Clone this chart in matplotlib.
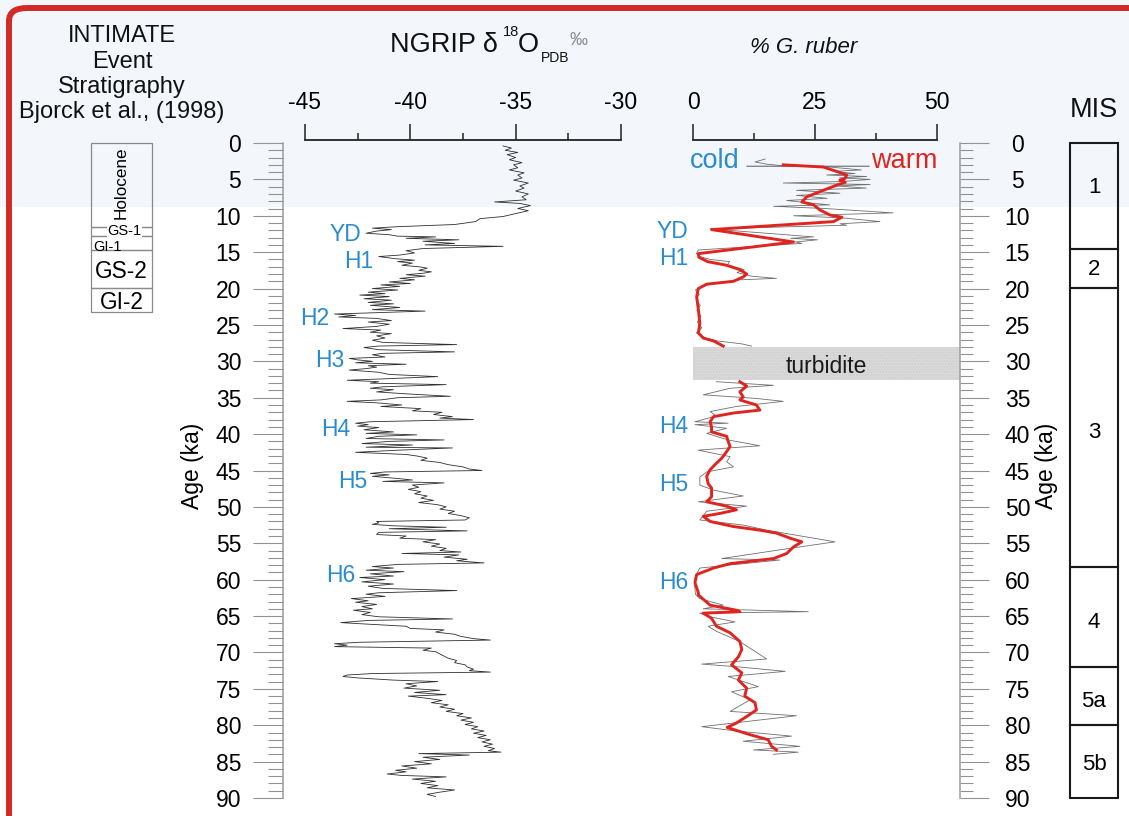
import numpy as np
import matplotlib
matplotlib.use("Agg")
import matplotlib.pyplot as plt
import matplotlib.transforms as mtransforms
from matplotlib.patches import Rectangle, FancyBboxPatch
from matplotlib.ticker import MultipleLocator

plt.rcParams['font.family'] = ['Liberation Sans', 'DejaVu Sans']
plt.rcParams['axes.unicode_minus'] = False

# ---------------- data ----------------
# NGRIP oxygen isotope record (age ka, d18O permil)
ngrip_age = [0.4, 0.7, 1.0, 1.3, 1.6, 2.0, 2.3, 2.7, 3.0, 3.4, 3.7, 4.1, 4.4, 4.8, 5.1, 5.5, 5.9, 6.2, 6.6, 7.0,
             7.4, 7.8, 8.1, 8.3, 8.6, 9.0, 9.3, 9.7, 10.1, 10.4, 10.8, 11.2, 11.5, 11.7, 11.9, 12.1, 12.4, 12.6, 12.8, 12.9,
             13.1, 13.3, 13.5, 13.8, 14.0, 14.2, 14.5, 14.8, 15.1, 15.4, 15.6, 15.9, 16.1, 16.3, 16.5, 16.8, 17.0, 17.2, 17.5, 17.7,
             17.9, 18.1, 18.3, 18.6, 18.8, 19.1, 19.3, 19.5, 19.7, 20.0, 20.2, 20.5, 20.7, 20.9, 21.1, 21.4, 21.6, 21.9, 22.1, 22.3,
             22.6, 22.9, 23.1, 23.3, 23.5, 23.7, 23.9, 24.1, 24.4, 24.6, 24.9, 25.2, 25.5, 25.7, 26.0, 26.2, 26.5, 26.8, 27.1, 27.4,
             27.7, 27.9, 28.1, 28.4, 28.7, 28.9, 29.1, 29.4, 29.6, 29.8, 30.0, 30.2, 30.4, 30.6, 30.8, 31.0, 31.2, 31.5, 31.8, 32.1,
             32.4, 32.6, 32.8, 33.0, 33.2, 33.5, 33.7, 33.9, 34.2, 34.5, 34.8, 35.0, 35.3, 35.5, 35.7, 36.0, 36.2, 36.5, 36.8, 37.0,
             37.3, 37.6, 37.8, 38.0, 38.3, 38.5, 38.7, 38.9, 39.1, 39.4, 39.7, 39.9, 40.1, 40.3, 40.6, 40.8, 41.0, 41.3, 41.5, 41.8,
             41.9, 42.2, 42.5, 42.8, 43.0, 43.3, 43.6, 43.9, 44.2, 44.5, 44.8, 45.0, 45.2, 45.4, 45.6, 45.8, 46.1, 46.3, 46.5, 46.7,
             47.0, 47.3, 47.6, 47.9, 48.2, 48.5, 48.8, 49.1, 49.4, 49.7, 50.0, 50.3, 50.6, 50.9, 51.2, 51.5, 51.8, 52.0, 52.2, 52.4,
             52.6, 52.8, 53.0, 53.3, 53.5, 53.8, 54.0, 54.3, 54.5, 54.8, 55.1, 55.4, 55.7, 56.0, 56.2, 56.4, 56.6, 56.9, 57.2, 57.4,
             57.7, 57.9, 58.2, 58.4, 58.7, 58.9, 59.2, 59.5, 59.7, 60.0, 60.3, 60.6, 60.9, 61.2, 61.5, 61.8, 62.0, 62.3, 62.6, 62.9,
             63.1, 63.4, 63.7, 64.0, 64.2, 64.5, 64.8, 65.1, 65.4, 65.6, 65.9, 66.1, 66.4, 66.7, 66.9, 67.2, 67.5, 67.8, 68.1, 68.3,
             68.6, 68.8, 69.0, 69.2, 69.4, 69.7, 69.9, 70.2, 70.5, 70.8, 71.1, 71.4, 71.7, 72.0, 72.3, 72.5, 72.7, 72.9, 73.1, 73.3,
             73.5, 73.8, 74.0, 74.3, 74.6, 74.9, 75.2, 75.5, 75.8, 76.0, 76.3, 76.6, 76.9, 77.2, 77.5, 77.8, 78.1, 78.4, 78.7, 79.0,
             79.3, 79.6, 79.9, 80.2, 80.5, 80.8, 81.1, 81.4, 81.7, 82.0, 82.3, 82.6, 82.9, 83.2, 83.5, 83.7, 83.9, 84.1, 84.4, 84.7,
             85.0, 85.3, 85.6, 85.9, 86.2, 86.4, 86.7, 86.9, 87.1, 87.4, 87.7, 88.0, 88.3, 88.6, 88.9, 89.2, 89.5, 89.8]
ngrip_d18o = [-35.6, -35.2, -35.5, -34.9, -35.4, -35.0, -35.3, -34.7, -35.1, -34.9, -35.3, -34.6, -34.9, -34.7, -35.1, -34.4, -34.8, -34.6, -35.0, -34.4,
              -34.7, -34.5, -36.0, -34.8, -34.3, -34.9, -34.4, -35.0, -35.6, -36.7, -36.9, -37.9, -40.6, -41.8, -40.9, -41.6, -42.1, -41.0, -40.6, -38.8,
              -40.2, -37.7, -39.4, -37.9, -39.3, -35.6, -39.4, -40.2, -39.8, -40.5, -41.5, -40.7, -39.8, -40.6, -39.9, -40.4, -39.6, -39.2, -39.6, -39.0,
              -39.4, -40.2, -39.3, -40.5, -39.8, -41.0, -40.0, -41.4, -40.5, -41.8, -40.6, -42.0, -41.2, -42.4, -41.0, -42.2, -40.9, -42.0, -40.8, -41.9,
              -40.5, -41.8, -39.3, -41.5, -43.6, -42.6, -43.4, -41.6, -40.9, -42.0, -41.0, -41.6, -43.2, -41.4, -41.9, -40.9, -41.6, -41.2, -41.8, -41.3,
              -37.8, -41.5, -42.2, -41.5, -37.9, -41.3, -41.8, -41.2, -42.9, -42.5, -41.8, -42.6, -40.2, -42.0, -41.6, -42.1, -42.9, -41.5, -41.0, -38.7,
              -41.2, -43.0, -41.5, -41.9, -38.3, -41.3, -41.9, -40.8, -41.6, -40.0, -38.1, -40.6, -41.4, -43.0, -41.6, -40.4, -41.4, -39.5, -39.9, -38.5,
              -38.9, -38.0, -38.6, -37.0, -41.9, -42.6, -42.0, -42.5, -41.5, -42.2, -40.8, -42.1, -39.7, -41.5, -42.1, -38.4, -41.0, -42.3, -39.9, -42.1,
              -38.0, -40.5, -42.6, -40.2, -39.7, -39.2, -39.5, -38.6, -38.2, -37.5, -37.2, -36.6, -41.2, -41.9, -41.0, -41.8, -40.6, -39.9, -41.3, -38.4,
              -39.9, -39.6, -40.1, -39.5, -39.8, -39.2, -39.5, -38.9, -39.6, -38.7, -38.3, -38.6, -37.9, -38.2, -37.6, -37.2, -37.4, -41.6, -41.5, -41.8,
              -40.8, -38.3, -41.0, -37.3, -41.5, -41.6, -40.2, -40.5, -38.8, -39.4, -38.6, -39.0, -38.3, -38.6, -37.6, -40.4, -37.7, -38.4, -37.3, -37.8,
              -36.5, -40.6, -41.8, -40.8, -42.1, -40.3, -41.9, -40.8, -42.4, -41.2, -42.3, -40.8, -42.0, -41.3, -37.8, -41.5, -42.1, -41.2, -42.8, -42.0,
              -42.6, -41.6, -42.3, -41.8, -42.7, -41.9, -42.3, -41.5, -38.0, -42.0, -43.3, -42.1, -40.2, -40.0, -38.4, -38.8, -37.9, -37.6, -37.0, -36.2,
              -42.4, -43.6, -43.0, -43.6, -39.0, -39.4, -38.8, -38.6, -38.4, -38.2, -37.8, -37.9, -37.4, -37.3, -37.0, -37.2, -36.2, -41.8, -43.0, -43.2,
              -42.5, -40.8, -38.7, -40.2, -39.7, -40.3, -38.6, -39.8, -38.3, -40.1, -39.2, -38.5, -39.0, -38.2, -38.6, -37.9, -38.3, -37.5, -37.8, -37.1,
              -37.6, -37.0, -37.4, -36.8, -37.1, -36.5, -37.0, -36.4, -36.8, -36.2, -36.6, -36.1, -36.5, -36.0, -36.3, -35.7, -39.6, -37.2, -39.4, -38.6,
              -39.8, -39.0, -40.4, -39.7, -40.7, -40.2, -41.1, -40.4, -38.3, -39.9, -38.8, -39.5, -38.7, -39.2, -37.9, -38.6, -39.2, -38.8]

# G. ruber abundance, raw counts (age ka, %)
ruber_raw_age = [2.2, 2.6, 2.9, 3.1, 3.3, 3.7, 3.9, 4.2, 4.4, 4.6, 4.8, 5.0, 5.3, 5.5, 5.7, 5.9, 6.2, 6.5, 6.9, 7.2,
                 7.6, 7.9, 8.2, 8.5, 8.7, 9.0, 9.6, 10.0, 10.3, 10.8, 11.1, 11.3, 11.8, 12.9, 13.1, 13.3, 13.6, 13.8, 14.7, 15.2,
                 15.6, 16.0, 16.3, 16.8, 17.0, 17.4, 17.8, 18.3, 18.6, 18.8, 19.0, 19.3, 19.6, 20.2, 20.8, 21.5, 22.3, 23.0, 23.8, 24.6,
                 25.4, 26.1, 26.8, 27.2, 27.6, 27.9,
                 32.8, 33.3, 33.7, 34.6, 35.1, 35.5, 36.2, 36.9, 37.5, 38.3, 38.5, 38.7, 39.2, 39.9, 40.8, 41.6, 42.2, 43.1, 43.8, 44.5,
                 45.2, 45.9, 47.0, 47.7, 48.5, 49.3, 49.9, 50.6, 51.8, 52.5, 53.2, 54.8, 55.9, 57.1, 57.3, 58.4, 59.5, 60.5, 62.0, 62.6,
                 63.5, 64.0, 64.4, 64.6, 65.1, 65.8, 66.4, 67.1, 68.5, 70.9, 71.6, 72.0, 72.6, 73.3, 74.7, 75.4, 76.5, 78.1, 78.7, 80.2,
                 80.8, 81.5, 82.2, 82.9, 83.4, 83.7, 84.0]
ruber_raw_pct = [14.8, 12.7, 15.0, 18.0, 28.0, 34.5, 28.8, 33.2, 27.4, 35.6, 30.0, 36.3, 30.5, 18.5, 36.3, 29.4, 35.5, 21.2, 30.1, 21.2,
                 27.5, 19.2, 23.3, 28.0, 16.5, 27.0, 41.0, 20.6, 30.8, 38.3, 30.1, 31.5, 3.5, 24.7, 20.0, 25.5, 21.0, 22.3, 1.1, 0.7,
                 1.4, 3.5, 7.5, 7.0, 8.3, 10.5, 9.0, 12.0, 17.1, 9.5, 8.0, 4.5, 2.0, 0.5, 1.3, 0.6, 1.5, 0.8, 1.6, 0.9,
                 1.8, 0.7, 2.6, 5.0, 10.0, 12.0,
                 4.8, 16.5, 7.6, 2.1, 13.0, 18.5, 8.9, 3.5, 4.8, 0.4, 7.2, 0.4, 6.9, 2.8, 7.2, 13.7, 1.1, 7.6, 6.9, 8.3,
                 2.8, 1.4, 1.4, 4.2, 10.3, 1.1, 11.0, 2.8, 1.4, 10.3, 15.1, 29.1, 17.8, 5.9, 17.8, 1.4, 0.5, 0.3, 0.5, 1.4,
                 6.2, 2.1, 23.6, 1.4, 3.5, 8.6, 3.1, 4.8, 9.6, 15.1, 1.8, 9.6, 18.9, 7.2, 13.4, 7.9, 11.7, 7.6, 21.2, 1.8,
                 8.9, 20.2, 10.3, 21.9, 12.4, 21.6, 16.5]

# G. ruber abundance, smoothed (age ka, %)
ruber_smooth_age = [3.0, 3.3, 3.9, 4.4, 4.9, 5.1, 5.4, 5.8, 6.5, 7.4, 8.1, 8.5, 9.2, 9.9, 10.2, 10.8, 11.9, 13.6, 15.2, 15.7,
                    16.3, 16.8, 17.4, 18.0, 18.4, 19.0, 19.4, 20.0, 21.1, 22.9, 24.8, 26.1, 26.8, 27.2, 27.9,
                    32.8, 33.4, 34.2, 34.9, 35.3, 36.0, 36.7, 37.1, 37.6, 38.3, 39.0, 39.7, 40.3, 41.0, 41.7, 42.4, 43.3, 44.2, 44.9, 45.8,
                    46.8, 47.4, 48.6, 49.3, 49.9, 50.4, 50.9, 51.3, 52.0, 52.7, 53.2, 53.6, 54.3, 54.8, 55.5, 56.4, 57.1, 57.8, 58.4, 59.3,
                    60.4, 61.8, 62.1, 63.5, 64.2, 64.4, 64.6, 65.3, 66.4, 67.3, 68.5, 69.6, 70.6, 71.7, 72.8, 73.8, 74.9, 76.0, 76.9, 77.9,
                    78.8, 79.7, 80.3, 80.8, 81.3, 82.0, 82.9, 83.4]
ruber_smooth_pct = [18.5, 26.7, 29.4, 31.5, 31.1, 30.1, 31.2, 29.4, 26.7, 23.3, 22.3, 24.7, 26.0, 28.1, 30.5, 28.8, 3.8, 20.6, 1.1, 1.2,
                    3.0, 6.9, 9.6, 11.0, 10.3, 8.3, 2.8, 1.1, 0.75, 1.1, 1.4, 1.1, 2.1, 4.2, 6.2,
                    9.6, 11.0, 9.6, 10.3, 9.6, 13.0, 13.7, 8.3, 4.2, 3.5, 3.8, 3.8, 6.9, 7.2, 7.6, 6.9, 5.9, 4.5, 3.5, 2.8,
                    3.1, 3.8, 3.8, 2.8, 6.9, 8.9, 5.5, 2.1, 3.5, 8.3, 13.7, 17.1, 19.9, 22.3, 20.6, 19.2, 16.5, 7.6, 4.2, 0.75,
                    0.4, 1.1, 1.1, 3.5, 8.9, 9.6, 2.1, 3.8, 4.8, 7.6, 9.6, 10.0, 9.3, 7.9, 10.0, 9.3, 11.0, 10.6, 12.7, 13.0,
                    11.0, 8.9, 7.0, 9.3, 11.7, 15.4, 16.1, 17.1]

# turbidite interval in the core (ka)
turbidite_top, turbidite_base = 28.0, 32.6

# INTIMATE event stratigraphy (Bjorck et al., 1998)
event_bounds = [0.0, 11.5, 12.8, 14.7, 19.9, 23.2]
event_names = ['Holocene', 'GS-1', 'GI-1', 'GS-2', 'GI-2']

# marine isotope stages
mis_bounds = [0.0, 14.6, 19.9, 58.2, 72.0, 80.0, 90.0]
mis_names = ['1', '2', '3', '4', '5a', '5b']
mis_label_age = [5.8, 17.1, 39.5, 65.5, 76.4, 85.0]

# Heinrich events / Younger Dryas
ngrip_events = ['YD', 'H1', 'H2', 'H3', 'H4', 'H5', 'H6']
ngrip_event_age = [12.2, 15.9, 23.8, 29.5, 39.0, 46.2, 59.1]
ruber_events = ['YD', 'H1', 'H4', 'H5', 'H6']
ruber_event_age = [11.8, 15.5, 38.6, 46.6, 60.0]

ngrip_ticks = [-45, -40, -35, -30]
ngrip_minor = [-42.5, -37.5, -32.5]
ruber_ticks = [0, 25, 50]
ruber_minor = [12.5, 37.5]
age_ticks = list(range(0, 91, 5))
holocene_shade_end = 8.75

# ---------------- layout ----------------
W, H = 1129, 816
fig = plt.figure(figsize=(W / 100, H / 100), dpi=100)
fig.patch.set_facecolor('white')

BLUE = '#2a8bd0'
RED = '#e0241f'
GRID_GRAY = '#929292'
INK = '#111111'


def fx(px):
    return px / W


def fy(py):
    return 1 - py / H


Y_TOP, Y_BOT = 143, 798


def column(x0, x1):
    ax = fig.add_axes([fx(x0), fy(Y_BOT), (x1 - x0) / W, (Y_BOT - Y_TOP) / H])
    ax.set_ylim(90, 0)
    ax.patch.set_visible(False)
    return ax


# NGRIP panel (left spine doubles as the age axis)
ax_ng = column(283, 621)
ng_scale = (621 - 305) / 15.0
ax_ng.set_xlim(-45 - (305 - 283) / ng_scale, -30)

# G. ruber panel (right spine doubles as the age axis)
ax_gr = column(693, 960)
gr_scale = (937 - 693) / 50.0
ax_gr.set_xlim(0, 50 + (960 - 937) / gr_scale)

ax_evt = column(91, 152)
ax_evt.set_xlim(0, 1)
ax_evt.axis('off')

ax_mis = column(1070, 1118)
ax_mis.set_xlim(0, 1)
ax_mis.axis('off')

# light shading over the upper Holocene, across the whole figure
band = Rectangle((0, -25), 1, 25 + holocene_shade_end,
                 transform=mtransforms.blended_transform_factory(fig.transFigure, ax_ng.transData),
                 facecolor='#f3f7fc', edgecolor='none', zorder=-10)
fig.patches.append(band)

# red rounded frame; its right and bottom sides lie beyond the canvas
frame = FancyBboxPatch((fx(9), fy(850)), fx(1170) - fx(9), fy(8) - fy(850),
                       boxstyle='round,pad=0,rounding_size=0.016',
                       transform=fig.transFigure,
                       fill=False, edgecolor='#d22b27', linewidth=4.3, zorder=20)
fig.patches.append(frame)

# ---- NGRIP axis styling ----
for s in ('right', 'bottom'):
    ax_ng.spines[s].set_visible(False)
ax_ng.spines['left'].set_color('#9c9c9c')
ax_ng.spines['left'].set_linewidth(1.1)
ax_ng.spines['top'].set_bounds(-45, -30)
ax_ng.spines['top'].set_position(('outward', 2.2))
ax_ng.spines['top'].set_linewidth(1.3)
ax_ng.spines['top'].set_color('#222222')
ax_ng.xaxis.set_ticks_position('top')
ax_ng.set_xticks(ngrip_ticks, [str(v) for v in ngrip_ticks])
ax_ng.set_xticks(ngrip_minor, minor=True)
ax_ng.tick_params(axis='x', which='major', length=11.5, width=1.1, color='#222222',
                  labelsize=16.5, pad=7)
ax_ng.tick_params(axis='x', which='minor', length=5, width=1.1, color='#222222')
ax_ng.set_yticks(age_ticks, [str(v) for v in age_ticks])
ax_ng.yaxis.set_minor_locator(MultipleLocator(1))
ax_ng.tick_params(axis='y', which='major', length=21.6, width=0.8, color=GRID_GRAY,
                  labelsize=16.5, pad=8.5)
ax_ng.tick_params(axis='y', which='minor', length=10.8, width=0.8, color=GRID_GRAY)

ax_ng.plot(ngrip_d18o, ngrip_age, color='#2f2f2f', lw=0.6, zorder=3)

ng_age = np.array(ngrip_age)
ng_val = np.array(ngrip_d18o)
for name, age in zip(ngrip_events, ngrip_event_age):
    sel = np.abs(ng_age - age) <= 0.7
    ax_ng.annotate(name, xy=(ng_val[sel].min(), age), xytext=(-3.5, 0),
                   textcoords='offset points', ha='right', va='center_baseline',
                   color=BLUE, fontsize=16.5)

# ---- G. ruber axis styling ----
for s in ('left', 'bottom'):
    ax_gr.spines[s].set_visible(False)
ax_gr.spines['right'].set_color('#9c9c9c')
ax_gr.spines['right'].set_linewidth(1.1)
ax_gr.spines['top'].set_bounds(0, 50)
ax_gr.spines['top'].set_position(('outward', 2.2))
ax_gr.spines['top'].set_linewidth(1.3)
ax_gr.spines['top'].set_color('#222222')
ax_gr.xaxis.set_ticks_position('top')
ax_gr.set_xticks(ruber_ticks, [str(v) for v in ruber_ticks])
ax_gr.set_xticks(ruber_minor, minor=True)
ax_gr.tick_params(axis='x', which='major', length=11.5, width=1.1, color='#222222',
                  labelsize=16.5, pad=7)
ax_gr.tick_params(axis='x', which='minor', length=5, width=1.1, color='#222222')
ax_gr.yaxis.tick_right()
ax_gr.set_yticks(age_ticks, [str(v) for v in age_ticks], ha='center')
ax_gr.yaxis.set_minor_locator(MultipleLocator(1))
ax_gr.tick_params(axis='y', which='major', length=20.9, width=0.8, color=GRID_GRAY,
                  labelsize=16.5, pad=20.5)
ax_gr.tick_params(axis='y', which='minor', length=9.4, width=0.8, color=GRID_GRAY)

ax_gr.axhspan(turbidite_top, turbidite_base, facecolor='#dadada', edgecolor='#cfcfcf',
              hatch='......', linewidth=0, zorder=1)
ax_gr.text(0.5, (turbidite_top + turbidite_base) / 2, 'turbidite',
           transform=mtransforms.blended_transform_factory(ax_gr.transAxes, ax_gr.transData),
           ha='center', va='center_baseline', fontsize=16.5, color='#1a1a1a', zorder=2)

raw_age = np.array(ruber_raw_age)
raw_pct = np.array(ruber_raw_pct)
sm_age = np.array(ruber_smooth_age)
sm_pct = np.array(ruber_smooth_pct)
for part in (raw_age < turbidite_top, raw_age > turbidite_base):
    ax_gr.plot(raw_pct[part], raw_age[part], color='#6f6f6f', lw=0.6, zorder=3)
for part in (sm_age < turbidite_top, sm_age > turbidite_base):
    ax_gr.plot(sm_pct[part], sm_age[part], color=RED, lw=2.1, zorder=4,
               solid_joinstyle='round')

for name, age in zip(ruber_events, ruber_event_age):
    ax_gr.annotate(name, xy=(0, age), xytext=(-3.5, 0), textcoords='offset points',
                   ha='right', va='center_baseline', color=BLUE, fontsize=16.5)

cold = fig.text(fx(690), fy(168), 'cold', color=BLUE, fontsize=19.5, va='baseline', ha='left')
warm = fig.text(fx(937), fy(168), 'warm', color=RED, fontsize=19.5, va='baseline', ha='right')
ax_gr.annotate('', xy=(0, 0.3), xycoords=warm, xytext=(1, 0.3), textcoords=cold,
               arrowprops=dict(arrowstyle='-', color='#555555', lw=0.7, shrinkA=5, shrinkB=1))

# ---- event stratigraphy column ----
for i, name in enumerate(event_names):
    top, base = event_bounds[i], event_bounds[i + 1]
    ax_evt.add_patch(Rectangle((0, top), 1, base - top, facecolor='none',
                               edgecolor='#8a8a8a', lw=0.9, clip_on=False))
    mid = (top + base) / 2
    if name == 'Holocene':
        ax_evt.text(0.5, mid - 0.3, name, rotation=90, ha='center', va='center', fontsize=12.3)
    elif name == 'GS-1':
        ax_evt.text(0.55, mid - 0.2, name, ha='center', va='center_baseline', fontsize=10.5,
                    bbox=dict(facecolor='white', edgecolor='none', pad=0))
    elif name == 'GI-1':
        ax_evt.text(0.03, mid + 0.4, name, ha='left', va='center_baseline', fontsize=10.5)
    else:
        ax_evt.text(0.5, mid, name, ha='center', va='center_baseline', fontsize=16.3)

# ---- MIS column ----
for i, name in enumerate(mis_names):
    top, base = mis_bounds[i], mis_bounds[i + 1]
    ax_mis.add_patch(Rectangle((0, top), 1, base - top, facecolor='none',
                               edgecolor='#1a1a1a', lw=1.5, clip_on=False))
    ax_mis.text(0.5, mis_label_age[i], name, ha='center', va='center_baseline', fontsize=16)

# ---- headings ----
for txt, base in zip(['INTIMATE', 'Event', 'Stratigraphy', 'Bjorck et al., (1998)'], [42, 68, 93, 118]):
    fig.text(fx(122), fy(base), txt, ha='center', va='baseline', fontsize=17, color=INK)

# NGRIP d18O (PDB) heading, built piece by piece so the indices stay small
fig.text(fx(390), fy(52), 'NGRIP δ', ha='left', va='baseline', fontsize=19.5, color=INK)
fig.text(fx(503), fy(36), '18', ha='left', va='baseline', fontsize=10.5, color=INK)
fig.text(fx(518), fy(52), 'O', ha='left', va='baseline', fontsize=19.5, color=INK)
fig.text(fx(541), fy(62), 'PDB', ha='left', va='baseline', fontsize=10, color=INK)
fig.text(fx(570), fy(45), '‰', ha='left', va='baseline', fontsize=13, color='#8c8c8c')

fig.text(fx(750), fy(53), '% G. ruber', ha='left', va='baseline', fontsize=16,
         style='italic', color=INK)
fig.text(fx(1094), fy(117), 'MIS', ha='center', va='baseline', fontsize=19.5, color=INK)

fig.text(fx(193), fy(466), 'Age (ka)', rotation=90, ha='center', va='center', fontsize=16.5)
fig.text(fx(1047), fy(466), 'Age (ka)', rotation=90, ha='center', va='center', fontsize=16.5)

fig.savefig('out.png', dpi=100, facecolor='white')
